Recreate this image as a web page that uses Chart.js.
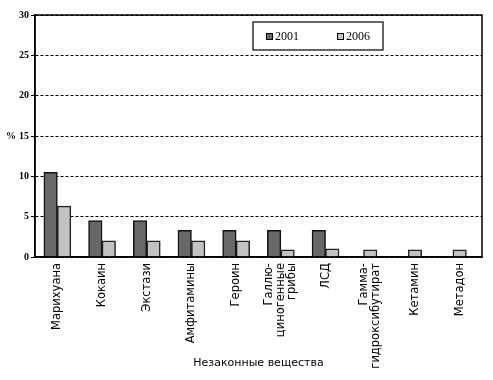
<!DOCTYPE html>
<html><head><meta charset="utf-8">
<script src="https://cdn.jsdelivr.net/npm/chart.js@4/dist/chart.umd.min.js"></script>
<style>html,body{margin:0;padding:0;background:#fff;}#wrap{width:493px;height:380px;}</style>
</head><body><div id="wrap"><canvas id="c" width="493" height="380"></canvas></div>
<script>
const categories = ["Марихуана", "Кокаин", "Экстази", "Амфитамины", "Героин", ["Галлю-", "циногенные", "грибы"], "ЛСД", ["Гамма-", "гидроксибутират"], "Кетамин", "Метадон"];
const values2001 = [10.5, 4.5, 4.5, 3.3, 3.3, 3.3, 3.3, null, null, null];
const values2006 = [6.3, 2.0, 2.0, 2.0, 2.0, 0.9, 1.0, 0.9, 0.9, 0.9];
const seriesLabels = ["2001", "2006"];
const yTicks = [0, 5, 10, 15, 20, 25, 30];
const yTitle = "%";
const xTitle = "Незаконные вещества";

const framePlugin = {
  id: 'frame',
  afterDraw(chart) {
    const {ctx, chartArea: a} = chart;
    const xs = chart.scales.x;
    ctx.save();
    ctx.strokeStyle = '#000'; ctx.lineWidth = 1.5; ctx.setLineDash([]);
    ctx.strokeRect(a.left, a.top, a.right - a.left, a.bottom - a.top);
    ctx.fillStyle = '#000';
    ctx.font = 'bold 10px "Liberation Serif"';
    ctx.textAlign = 'center'; ctx.textBaseline = 'middle';
    ctx.fillText(yTitle, 11, chart.scales.y.getPixelForValue(15));
    // x tick labels, rotated, multi-line groups centred on the tick
    ctx.font = '11.5px "DejaVu Sans"';
    ctx.textAlign = 'right'; ctx.textBaseline = 'middle';
    const lh = 11.5;
    chart.data.labels.forEach((lab, i) => {
      const lines = Array.isArray(lab) ? lab : [lab];
      const px = xs.getPixelForTick(i);
      lines.forEach((ln, j) => {
        const x = px + (j - (lines.length - 1) / 2) * lh;
        ctx.save();
        ctx.translate(x, a.bottom + 6);
        ctx.rotate(-Math.PI / 2);
        ctx.fillText(ln, 0, 0);
        ctx.restore();
      });
    });
    // legend
    const bx = 253, by = 22, bw = 130, bh = 28;
    ctx.fillStyle = '#fff';
    ctx.fillRect(bx, by, bw, bh);
    ctx.lineWidth = 1.2;
    ctx.strokeRect(bx, by, bw, bh);
    ctx.font = '12px "Liberation Serif"';
    ctx.textAlign = 'left'; ctx.textBaseline = 'middle';
    const lx = [266, 337];
    chart.data.datasets.forEach((d, i) => {
      ctx.fillStyle = d.backgroundColor;
      ctx.fillRect(lx[i], by + 11, 6, 6);
      ctx.lineWidth = 1; ctx.strokeStyle = '#000';
      ctx.strokeRect(lx[i] + 0.5, by + 11.5, 6, 6);
      ctx.fillStyle = '#000';
      ctx.fillText(d.label, lx[i] + 9, by + 14.5);
    });
    ctx.restore();
  }
};

new Chart(document.getElementById('c'), {
  type: 'bar',
  data: {
    labels: categories,
    datasets: [
      {label: seriesLabels[0], data: values2001, backgroundColor: '#686868', borderColor: '#111', borderWidth: 1.5, borderSkipped: 'bottom'},
      {label: seriesLabels[1], data: values2006, backgroundColor: '#c2c2c2', borderColor: '#222', borderWidth: 1.5, borderSkipped: 'bottom'}
    ]
  },
  options: {
    responsive: false,
    animation: false,
    devicePixelRatio: 1,
    skipNull: true,
    barThickness: 13.5,
    layout: {padding: {top: 15, right: 11, bottom: 6, left: 0}},
    plugins: {legend: {display: false}, tooltip: {enabled: false}},
    scales: {
      x: {
        grid: {display: false},
        border: {display: true, color: '#000', width: 1.5},
        ticks: {display: false, autoSkip: false},
        title: {display: true, text: xTitle, color: '#000', font: {family: '"DejaVu Sans"', size: 11}, padding: {top: 4, bottom: 4}},
        afterFit(s) { s.height = 117; }
      },
      y: {
        min: 0, max: 30,
        afterBuildTicks(s) { s.ticks = yTicks.map(v => ({value: v})); },
        grid: {color: '#000', lineWidth: 1, drawTicks: true, tickLength: 4, tickColor: '#000'},
        border: {display: true, color: '#000', width: 1.5, dash: [3, 2]},
        ticks: {color: '#000', font: {family: '"Liberation Serif"', size: 10, weight: 'bold'}, padding: 2},
        afterFit(s) { s.width = 35; }
      }
    }
  },
  plugins: [framePlugin]
});
</script></body></html>
